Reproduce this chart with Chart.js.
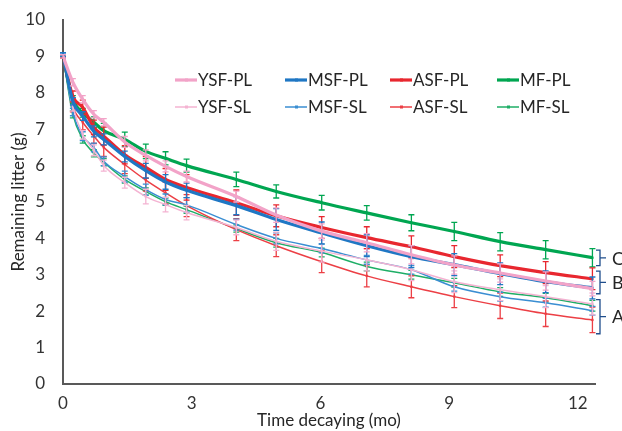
<!DOCTYPE html>
<html>
<head>
<meta charset="utf-8">
<script src="https://cdn.jsdelivr.net/npm/chart.js@4.4.1/dist/chart.umd.min.js"></script>
<style>
  body { margin: 0; background: #fff; }
  #wrap { width: 622px; height: 431px; position: relative; }
</style>
</head>
<body>
<div id="wrap"><canvas id="litterChart"></canvas></div>
<script>
// ==============================
// DATA
// ==============================
const months = [0, 0.23, 0.46, 0.72, 0.95, 1.44, 1.93, 2.39, 2.88, 4.04, 4.97, 6.03, 7.08, 8.12, 9.12, 10.19, 11.25, 12.34];
const xTicks = [0, 3, 6, 9, 12];

const ysfPL = [9.0, 8.29, 7.82, 7.41, 7.19, 6.65, 6.28, 5.98, 5.7, 5.15, 4.64, 4.2, 3.88, 3.55, 3.27, 3.05, 2.83, 2.62];
const msfPL = [9.05, 7.77, 7.36, 6.94, 6.72, 6.25, 5.86, 5.55, 5.32, 4.9, 4.52, 4.15, 3.8, 3.5, 3.28, 3.03, 2.81, 2.64];
const asfPL = [9.0, 7.9, 7.6, 7.05, 6.81, 6.3, 5.95, 5.62, 5.4, 4.98, 4.62, 4.3, 4.02, 3.77, 3.5, 3.25, 3.06, 2.89];
const mfPL = [9.0, 7.82, 7.45, 7.19, 6.96, 6.72, 6.39, 6.2, 6.0, 5.62, 5.29, 4.98, 4.7, 4.43, 4.19, 3.91, 3.69, 3.47];
const ysfSL = [9.0, 7.62, 6.85, 6.42, 6.0, 5.53, 5.15, 4.93, 4.71, 4.3, 3.92, 3.65, 3.41, 3.14, 2.81, 2.59, 2.4, 2.2];
const msfSL = [9.05, 7.47, 6.81, 6.5, 6.12, 5.7, 5.34, 5.07, 4.92, 4.38, 4.0, 3.72, 3.41, 3.14, 2.67, 2.4, 2.23, 2.01];
const asfSL = [9.0, 7.63, 7.19, 6.81, 6.5, 6.03, 5.6, 5.25, 4.9, 4.24, 3.8, 3.36, 2.97, 2.67, 2.4, 2.15, 1.93, 1.76];
const mfSL = [9.0, 7.41, 6.72, 6.34, 6.09, 5.62, 5.29, 5.01, 4.79, 4.27, 3.88, 3.61, 3.23, 3.0, 2.78, 2.53, 2.37, 2.15];

// error bars (+/-)
const ysfPLErr = [0.05, 0.1, 0.1, 0.1, 0.1, 0.15, 0.15, 0.15, 0.15, 0.15, 0.2, 0.2, 0.25, 0.25, 0.25, 0.25, 0.25, 0.2];
const msfPLErr = [0.05, 0.1, 0.12, 0.15, 0.15, 0.15, 0.2, 0.2, 0.2, 0.25, 0.3, 0.3, 0.3, 0.3, 0.3, 0.3, 0.3, 0.3];
const asfPLErr = [0.05, 0.15, 0.2, 0.2, 0.25, 0.25, 0.3, 0.3, 0.35, 0.35, 0.3, 0.3, 0.3, 0.3, 0.3, 0.3, 0.3, 0.3];
const mfPLErr = [0.05, 0.1, 0.12, 0.15, 0.2, 0.2, 0.2, 0.18, 0.18, 0.2, 0.18, 0.2, 0.2, 0.22, 0.25, 0.25, 0.25, 0.25];
const ysfSLErr = [0.05, 0.12, 0.12, 0.15, 0.15, 0.15, 0.2, 0.2, 0.2, 0.2, 0.25, 0.3, 0.3, 0.3, 0.3, 0.3, 0.3, 0.3];
const msfSLErr = [0.05, 0.1, 0.12, 0.12, 0.12, 0.15, 0.15, 0.15, 0.2, 0.15, 0.15, 0.12, 0.12, 0.12, 0.12, 0.12, 0.12, 0.12];
const asfSLErr = [0.05, 0.15, 0.2, 0.2, 0.25, 0.25, 0.3, 0.3, 0.3, 0.3, 0.3, 0.3, 0.3, 0.3, 0.3, 0.35, 0.35, 0.35];
const mfSLErr = [0.05, 0.1, 0.1, 0.1, 0.1, 0.1, 0.1, 0.1, 0.1, 0.1, 0.12, 0.12, 0.12, 0.12, 0.12, 0.12, 0.12, 0.15];

// significance groups on the right
const groupLabels = ["C", "B", "A"];
const groupTop = [3.68, 3.1, 2.32];
const groupBottom = [3.25, 2.48, 1.38];

// ==============================
// STYLE
// ==============================
const FONT = "Lato, 'Open Sans', sans-serif";
const TEXT = "#262626";

function makeSet(label, values, errors, color, width) {
  return {
    label: label,
    data: months.map((m, i) => ({ x: m, y: values[i] })),
    errors: errors,
    borderColor: color,
    backgroundColor: color,
    borderWidth: width,
    pointStyle: "rect",
    pointRadius: 1.6,
    pointBorderWidth: 0,
    cubicInterpolationMode: "monotone",
    fill: false,
  };
}

const datasets = [
  makeSet("YSF-PL", ysfPL, ysfPLErr, "#F2A3C8", 3.2),
  makeSet("MSF-PL", msfPL, msfPLErr, "#1F77C4", 3.2),
  makeSet("ASF-PL", asfPL, asfPLErr, "#E8272F", 3.2),
  makeSet("MF-PL", mfPL, mfPLErr, "#00A651", 3.2),
  makeSet("YSF-SL", ysfSL, ysfSLErr, "#F4B3D2", 1.5),
  makeSet("MSF-SL", msfSL, msfSLErr, "#3A8ED2", 1.5),
  makeSet("ASF-SL", asfSL, asfSLErr, "#EC3F45", 1.5),
  makeSet("MF-SL", mfSL, mfSLErr, "#1EAE66", 1.5),
];

// ==============================
// PLUGINS
// ==============================
const errorBars = {
  id: "errorBars",
  afterDatasetDraw(chart, args) {
    const ds = chart.data.datasets[args.index];
    const x = chart.scales.x, y = chart.scales.y;
    const ctx = chart.ctx;
    ctx.save();
    ctx.strokeStyle = ds.borderColor;
    ctx.lineWidth = 1.3;
    ds.data.forEach((p, i) => {
      const e = ds.errors[i];
      const px = x.getPixelForValue(p.x);
      const y1 = y.getPixelForValue(p.y + e);
      const y2 = y.getPixelForValue(p.y - e);
      ctx.beginPath();
      ctx.moveTo(px, y1); ctx.lineTo(px, y2);
      ctx.moveTo(px - 3, y1); ctx.lineTo(px + 3, y1);
      ctx.moveTo(px - 3, y2); ctx.lineTo(px + 3, y2);
      ctx.stroke();
    });
    ctx.restore();
  },
};

const legendBox = {
  id: "legendBox",
  afterDraw(chart) {
    const ctx = chart.ctx;
    const colX = [175, 285, 390, 497];
    const rowY = [80, 107];
    ctx.save();
    ctx.font = "17px " + FONT;
    ctx.textBaseline = "middle";
    chart.data.datasets.forEach((ds, i) => {
      const cx = colX[i % 4], cy = rowY[Math.floor(i / 4)];
      ctx.strokeStyle = ds.borderColor;
      ctx.lineWidth = ds.borderWidth;
      ctx.beginPath();
      ctx.moveTo(cx, cy); ctx.lineTo(cx + 22, cy);
      ctx.stroke();
      ctx.fillStyle = ds.borderColor;
      ctx.fillRect(cx + 10, cy - 1.5, 3, 3);
      ctx.fillStyle = TEXT;
      ctx.fillText(ds.label, cx + 23, cy + 1);
    });
    ctx.restore();
  },
};

const groupBrackets = {
  id: "groupBrackets",
  afterDraw(chart) {
    const ctx = chart.ctx;
    const y = chart.scales.y;
    const bx = chart.chartArea.right + 5;
    ctx.save();
    ctx.strokeStyle = "#1F4E8C";
    ctx.lineWidth = 1.3;
    ctx.fillStyle = TEXT;
    ctx.font = "18px " + FONT;
    ctx.textBaseline = "middle";
    groupLabels.forEach((lab, i) => {
      const t = y.getPixelForValue(groupTop[i]);
      const b = y.getPixelForValue(groupBottom[i]);
      const m = (t + b) / 2;
      ctx.beginPath();
      ctx.moveTo(bx - 4, t); ctx.lineTo(bx, t); ctx.lineTo(bx, b); ctx.lineTo(bx - 4, b);
      ctx.moveTo(bx, m); ctx.lineTo(bx + 6, m);
      ctx.stroke();
      ctx.fillText(lab, bx + 12, m + 1);
    });
    ctx.restore();
  },
};

// ==============================
// CHART
// ==============================
const ctx = document.getElementById("litterChart").getContext("2d");

new Chart(ctx, {
  type: "line",
  data: { datasets: datasets },
  plugins: [errorBars, legendBox, groupBrackets],
  options: {
    responsive: true,
    maintainAspectRatio: false,
    animation: false,
    layout: { padding: { top: 20, right: 27, left: 0, bottom: 0 } },
    plugins: { legend: { display: false }, tooltip: { enabled: false } },
    scales: {
      x: {
        type: "linear",
        min: 0,
        max: 12.4,
        afterBuildTicks: (scale) => { scale.ticks = xTicks.map(v => ({ value: v })); },
        afterFit: (scale) => {
          scale.height = 47;
          scale.paddingLeft = 0;
          scale.paddingRight = 0;
        },
        grid: { display: false, drawTicks: false },
        border: { display: true, color: "#595959", width: 2 },
        ticks: { padding: 9, color: "#333", font: { family: FONT, size: 17 } },
        title: {
          display: true,
          text: "Time decaying (mo)",
          color: TEXT,
          padding: { top: 0, bottom: 0 },
          font: { family: FONT, size: 17 },
        },
      },
      y: {
        min: 0,
        max: 10,
        ticks: { stepSize: 1, padding: 18, color: "#333", font: { family: FONT, size: 17 } },
        afterFit: (scale) => {
          scale.width = 63;
          scale.paddingTop = 0;
          scale.paddingBottom = 0;
        },
        grid: { display: false, drawTicks: false },
        border: { display: true, color: "#595959", width: 2 },
        title: {
          display: true,
          text: "Remaining litter (g)",
          color: TEXT,
          padding: { top: 8, bottom: 0 },
          font: { family: FONT, size: 17 },
        },
      },
    },
  },
});
</script>
</body>
</html>
